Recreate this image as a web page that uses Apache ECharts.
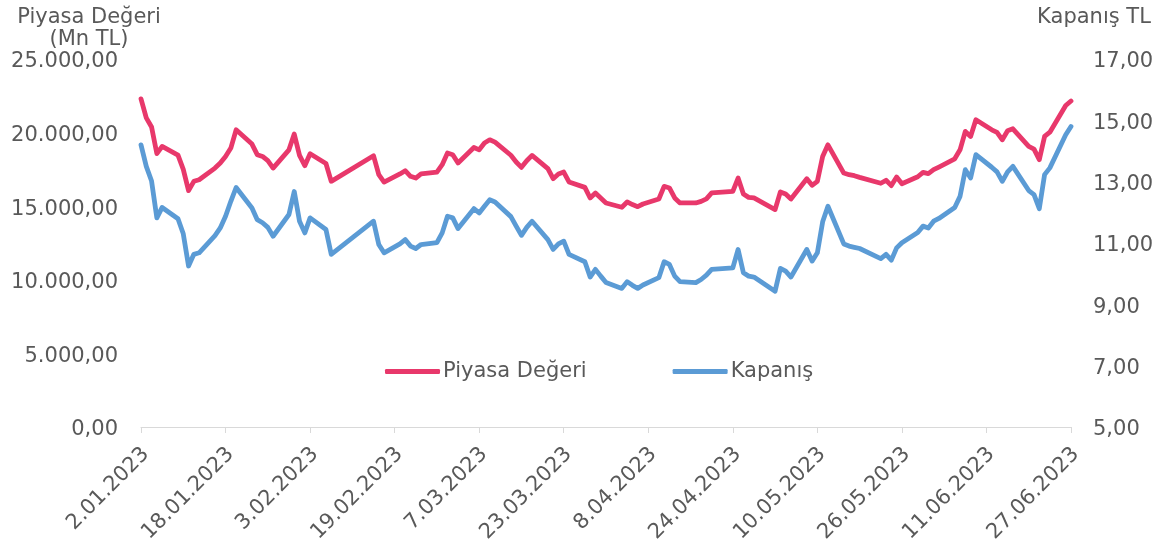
<!DOCTYPE html>
<html>
<head>
<meta charset="utf-8">
<script src="https://cdn.jsdelivr.net/npm/echarts@6/dist/echarts.min.js"></script>
<style>
html,body{margin:0;padding:0;background:#fff;}
#chart{width:1158px;height:547px;}
</style>
</head>
<body>
<div id="chart"></div>
<script>
const dates = [
'2023-01-02','2023-01-03','2023-01-04','2023-01-05','2023-01-06',
'2023-01-09','2023-01-10','2023-01-11','2023-01-12','2023-01-13',
'2023-01-16','2023-01-17','2023-01-18','2023-01-19','2023-01-20',
'2023-01-23','2023-01-24','2023-01-25','2023-01-26','2023-01-27',
'2023-01-30','2023-01-31','2023-02-01','2023-02-02','2023-02-03',
'2023-02-06','2023-02-07','2023-02-15','2023-02-16','2023-02-17',
'2023-02-20','2023-02-21','2023-02-22','2023-02-23','2023-02-24',
'2023-02-27','2023-02-28','2023-03-01','2023-03-02','2023-03-03',
'2023-03-06','2023-03-07','2023-03-08','2023-03-09','2023-03-10',
'2023-03-13','2023-03-14','2023-03-15','2023-03-16','2023-03-17',
'2023-03-20','2023-03-21','2023-03-22','2023-03-23','2023-03-24',
'2023-03-27','2023-03-28','2023-03-29','2023-03-30','2023-03-31',
'2023-04-03','2023-04-04','2023-04-05','2023-04-06','2023-04-07',
'2023-04-10','2023-04-11','2023-04-12','2023-04-13','2023-04-14',
'2023-04-17','2023-04-18','2023-04-19','2023-04-20',
'2023-04-24','2023-04-25','2023-04-26','2023-04-27','2023-04-28',
'2023-05-02','2023-05-03','2023-05-04','2023-05-05',
'2023-05-08','2023-05-09','2023-05-10','2023-05-11','2023-05-12',
'2023-05-15','2023-05-16','2023-05-17','2023-05-18',
'2023-05-22','2023-05-23','2023-05-24','2023-05-25','2023-05-26',
'2023-05-29','2023-05-30','2023-05-31','2023-06-01','2023-06-02',
'2023-06-05','2023-06-06','2023-06-07','2023-06-08','2023-06-09',
'2023-06-12','2023-06-13','2023-06-14','2023-06-15','2023-06-16',
'2023-06-19','2023-06-20','2023-06-21','2023-06-22','2023-06-23',
'2023-06-26','2023-06-27'
];
const piyasaDegeri = [
22290,21000,20380,18570,19060,
18470,17500,16060,16690,16800,
17590,17930,18380,18950,20190,
19220,18500,18380,18090,17590,
18830,19900,18450,17750,18560,
17900,16690,18430,17140,16640,
17190,17410,17030,16910,17190,
17320,17820,18610,18500,17930,
18990,18830,19290,19510,19350,
18460,18000,17640,18090,18450,
17550,16870,17190,17320,16650,
16280,15560,15900,15560,15220,
14930,15290,15110,14970,15150,
15490,16350,16240,15560,15220,
15220,15330,15500,15900,
16010,16910,15830,15600,15560,
14770,15970,15830,15490,
16870,16420,16690,18380,19170,
17250,17140,17070,16960,
16560,16760,16400,16980,16530,
17000,17300,17210,17480,17660,
18220,18830,20080,19740,20870,
20190,20010,19510,20120,20260,
19060,18880,18160,19740,20030,
21840,22150
];
const kapanis = [
14.20,13.50,13.02,11.82,12.16,
11.79,11.30,10.25,10.63,10.68,
11.24,11.49,11.87,12.36,12.81,
12.14,11.76,11.66,11.51,11.22,
11.93,12.68,11.71,11.33,11.82,
11.44,10.63,11.71,10.95,10.68,
10.97,11.11,10.90,10.82,10.95,
11.01,11.33,11.87,11.82,11.47,
12.12,11.98,12.20,12.41,12.34,
11.86,11.55,11.25,11.51,11.71,
11.11,10.79,10.97,11.06,10.63,
10.39,9.89,10.14,9.92,9.71,
9.52,9.74,9.62,9.52,9.63,
9.87,10.39,10.30,9.92,9.74,
9.71,9.81,9.95,10.14,
10.19,10.79,10.03,9.92,9.89,
9.43,10.17,10.08,9.89,
10.79,10.41,10.68,11.69,12.20,
10.97,10.90,10.86,10.82,
10.49,10.63,10.44,10.84,11.01,
11.34,11.55,11.49,11.71,11.80,
12.16,12.52,13.39,13.12,13.88,
13.47,13.32,13.01,13.32,13.50,
12.71,12.58,12.12,13.23,13.45,
14.53,14.80
];
const seriesNames = ['Piyasa Değeri', 'Kapanış'];
const leftAxisTitle = 'Piyasa Değeri\n(Mn TL)';
const rightAxisTitle = 'Kapanış TL';
const startDate = '2023-01-02';
const endDate = '2023-06-27';
const tickDays = 16;

const DAY = 86400000;
const t0 = Date.parse(startDate + 'T00:00:00Z');
function dayIndex(s){ return Math.round((Date.parse(s + 'T00:00:00Z') - t0) / DAY); }
function dayLabel(v){
  const d = new Date(t0 + v * DAY);
  const m = d.getUTCMonth() + 1;
  return d.getUTCDate() + '.' + (m < 10 ? '0' + m : m) + '.' + d.getUTCFullYear();
}
function trNum(v){
  const parts = v.toFixed(2).split('.');
  parts[0] = parts[0].replace(/\B(?=(\d{3})+(?!\d))/g, '.');
  return parts[0] + ',' + parts[1];
}
const pinkData = dates.map((d, i) => [dayIndex(d), piyasaDegeri[i]]);
const blueData = dates.map((d, i) => [dayIndex(d), kapanis[i]]);

const FONT = 'DejaVu Sans';
const TXT = '#595959';
const PINK = '#E8386B';
const BLUE = '#5B9BD5';

const chart = echarts.init(document.getElementById('chart'), null, {renderer: 'canvas'});
chart.setOption({
  animation: false,
  backgroundColor: '#ffffff',
  textStyle: {fontFamily: FONT, color: TXT},
  grid: {left: 141, right: 87, top: 59, bottom: 120},
  legend: {
    data: seriesNames,
    orient: 'horizontal',
    left: 385, top: 361, padding: 0,
    icon: 'roundRect',
    itemWidth: 55, itemHeight: 5, itemGap: 86,
    textStyle: {fontFamily: FONT, fontSize: 21, color: TXT, padding: [0, 0, 0, -2]}
  },
  graphic: [
    {type: 'text', x: 89, y: 7, style: {text: leftAxisTitle, fontFamily: FONT, fontSize: 21, fill: TXT, align: 'center', verticalAlign: 'top', lineHeight: 22}},
    {type: 'text', x: 1094, y: 7, style: {text: rightAxisTitle, fontFamily: FONT, fontSize: 21, fill: TXT, align: 'center', verticalAlign: 'top', lineHeight: 22}}
  ],
  xAxis: {
    type: 'value',
    min: 0, max: dayIndex(endDate), interval: tickDays,
    axisLine: {show: true, lineStyle: {color: '#D9D9D9', width: 1}},
    axisTick: {show: true, length: 6, lineStyle: {color: '#D9D9D9'}},
    splitLine: {show: false},
    axisLabel: {rotate: 45, margin: 19, verticalAlign: 'top', lineHeight: 14, fontFamily: FONT, fontSize: 21, color: TXT, formatter: v => dayLabel(v)}
  },
  yAxis: [
    {
      type: 'value', min: 0, max: 25000, interval: 5000,
      axisLine: {show: false}, axisTick: {show: false}, splitLine: {show: false},
      axisLabel: {margin: 23, verticalAlign: 'top', lineHeight: 6, fontFamily: FONT, fontSize: 21, color: TXT, formatter: v => trNum(v)}
    },
    {
      type: 'value', min: 5, max: 17, interval: 2,
      axisLine: {show: false}, axisTick: {show: false}, splitLine: {show: false},
      axisLabel: {margin: 22, verticalAlign: 'top', lineHeight: 6, fontFamily: FONT, fontSize: 21, color: TXT, formatter: v => trNum(v)}
    }
  ],
  series: [
    {
      name: seriesNames[0], type: 'line', yAxisIndex: 0, data: pinkData,
      showSymbol: false, symbol: 'none', color: PINK,
      lineStyle: {color: PINK, width: 4.8, cap: 'round', join: 'round'}
    },
    {
      name: seriesNames[1], type: 'line', yAxisIndex: 1, data: blueData,
      showSymbol: false, symbol: 'none', color: BLUE,
      lineStyle: {color: BLUE, width: 4.8, cap: 'round', join: 'round'}
    }
  ]
});
</script>
</body>
</html>
